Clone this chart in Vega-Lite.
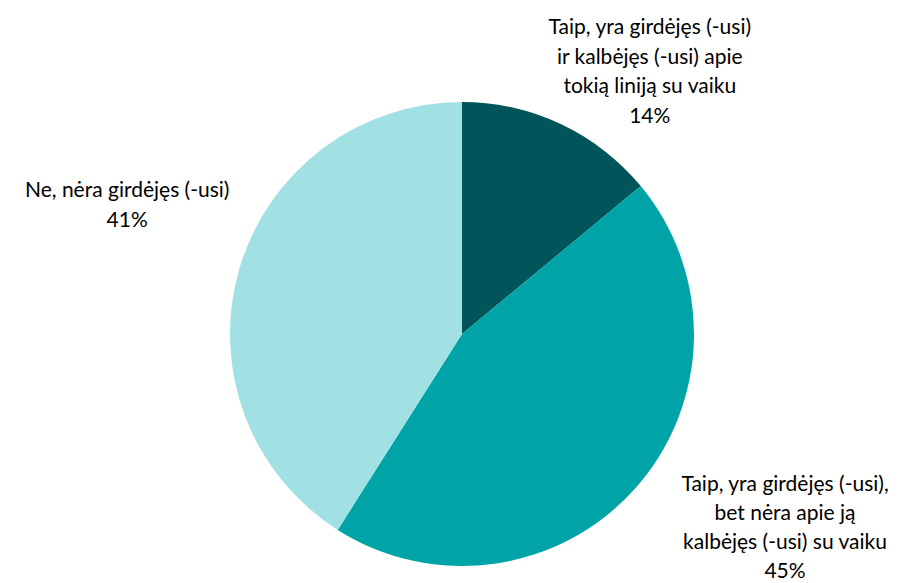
{
  "$schema": "https://vega.github.io/schema/vega-lite/v6.json",
  "width": 878,
  "height": 498,
  "padding": {"left": 23, "top": 85, "right": 0, "bottom": 0},
  "autosize": {"type": "none"},
  "background": "white",
  "config": {"view": {"stroke": null}},
  "data": {
    "values": [
      {"idx": 1, "label": "Taip, yra girdėjęs (-usi)\nir kalbėjęs (-usi) apie\ntokią liniją su vaiku", "value": 14},
      {"idx": 2, "label": "Taip, yra girdėjęs (-usi),\nbet nėra apie ją\nkalbėjęs (-usi) su vaiku", "value": 45},
      {"idx": 3, "label": "Ne, nėra girdėjęs (-usi)", "value": 41}
    ]
  },
  "transform": [
    {"stack": "value", "groupby": [], "sort": [{"field": "idx", "order": "ascending"}], "as": ["v0", "v1"]},
    {"calculate": "(datum.v0 + datum.v1) / 2", "as": "mid"},
    {"calculate": "datum.label + '\\n' + datum.value + '%'", "as": "txt"}
  ],
  "layer": [
    {
      "mark": {"type": "arc", "outerRadius": 232},
      "encoding": {
        "theta": {"field": "v0", "type": "quantitative", "scale": {"domain": [0, 100]}},
        "theta2": {"field": "v1"},
        "color": {
          "field": "idx",
          "type": "nominal",
          "scale": {"domain": [1, 2, 3], "range": ["#00555B", "#00A4A7", "#A1E0E3"]},
          "legend": null
        }
      }
    },
    {
      "transform": [{"filter": "datum.idx == 1"}],
      "mark": {"type": "text", "radius": 232, "dx": 89, "dy": -96, "align": "center", "baseline": "middle", "lineBreak": "\n", "lineHeight": 29.5, "font": "Lato", "fontSize": 21, "color": "#000000"},
      "encoding": {
        "theta": {"field": "mid", "type": "quantitative", "scale": {"domain": [0, 100]}},
        "text": {"field": "txt"}
      }
    },
    {
      "transform": [{"filter": "datum.idx == 2"}],
      "mark": {"type": "text", "radius": 232, "dx": 149, "dy": -2, "align": "center", "baseline": "middle", "lineBreak": "\n", "lineHeight": 29, "font": "Lato", "fontSize": 21, "color": "#000000"},
      "encoding": {
        "theta": {"field": "mid", "type": "quantitative", "scale": {"domain": [0, 100]}},
        "text": {"field": "txt"}
      }
    },
    {
      "transform": [{"filter": "datum.idx == 3"}],
      "mark": {"type": "text", "radius": 232, "dx": -112, "dy": -78, "align": "center", "baseline": "middle", "lineBreak": "\n", "lineHeight": 29.5, "font": "Lato", "fontSize": 21, "color": "#000000"},
      "encoding": {
        "theta": {"field": "mid", "type": "quantitative", "scale": {"domain": [0, 100]}},
        "text": {"field": "txt"}
      }
    }
  ]
}
